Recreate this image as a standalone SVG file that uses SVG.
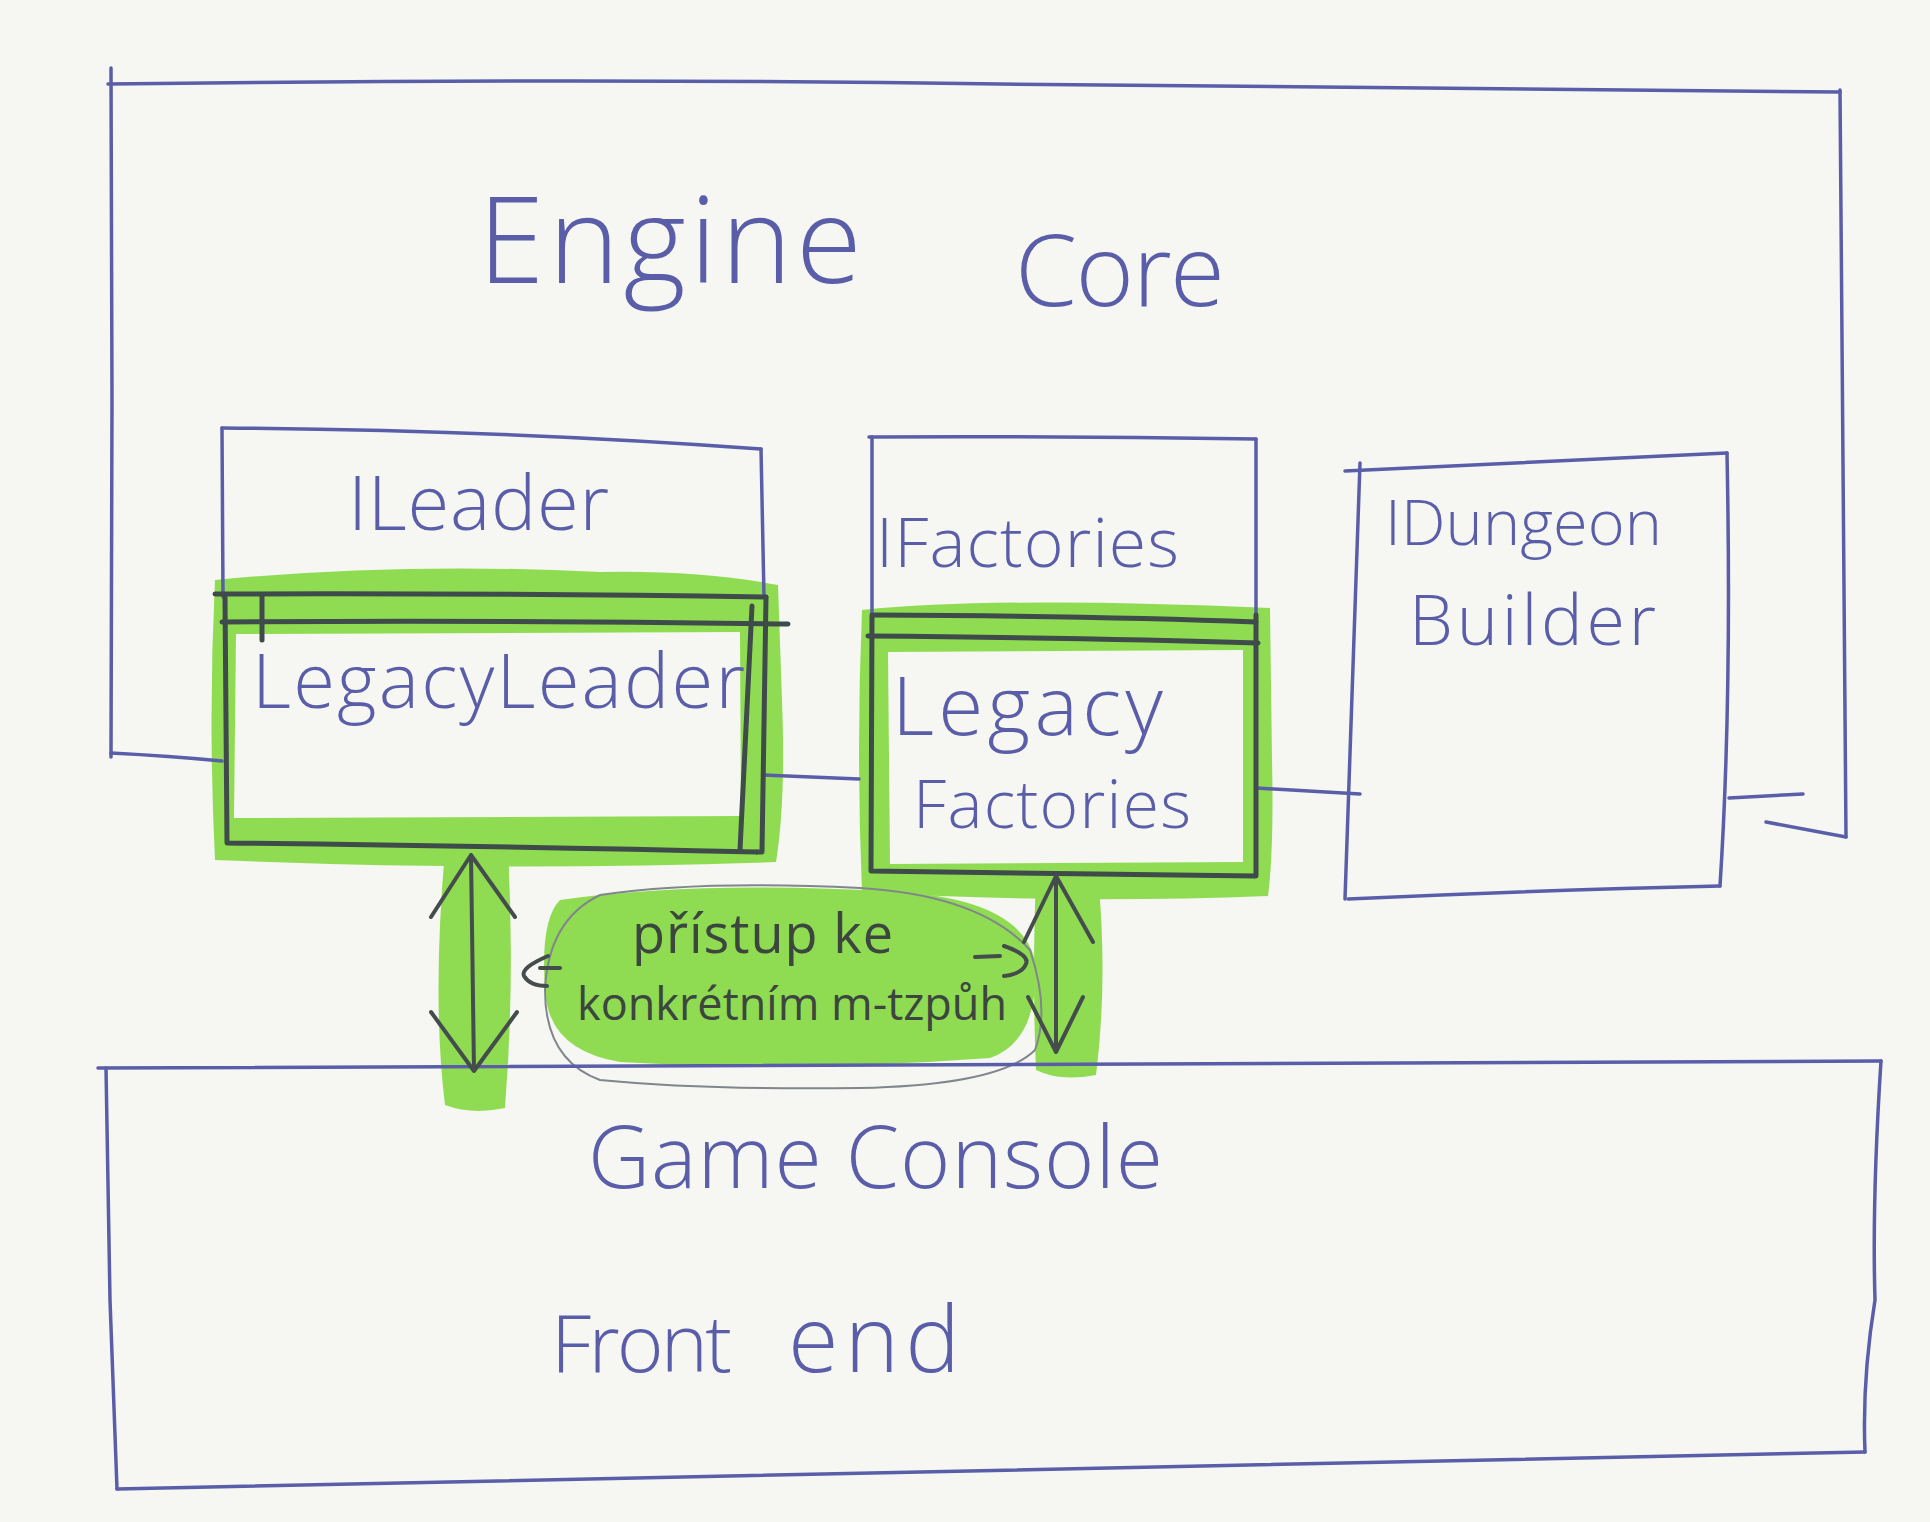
<svg xmlns="http://www.w3.org/2000/svg" width="1930" height="1522" viewBox="0 0 1930 1522">
<defs>
<style>
.ink{fill:none;stroke:#5a5ea8;stroke-width:3.5;stroke-linecap:round;stroke-linejoin:round}
.dark{fill:none;stroke:#3f4a4a;stroke-width:5;stroke-linecap:round;stroke-linejoin:round}
.arr{fill:none;stroke:#444c4c;stroke-width:4;stroke-linecap:round;stroke-linejoin:round}
.pencil{fill:none;stroke:#80868c;stroke-width:2;stroke-linecap:round}
.hl{fill:#8fdc52;fill-rule:evenodd}
.t{font-family:"Open Sans","Liberation Sans",sans-serif;font-weight:300;fill:#5a5ea8}
.tn{font-family:"Open Sans","Liberation Sans",sans-serif;font-weight:400;fill:#3c463f}
</style>
</defs>
<rect width="1930" height="1522" fill="#f6f6f3"/>

<g id="highlights">
<path class="hl" d="M215 580 Q400 562 600 572 Q700 570 778 585 L782 700 Q786 800 776 862 Q500 872 215 860 Q208 720 215 580 Z M236 634 L740 632 L741 816 L234 818 Z"/>
<path class="hl" d="M862 610 Q1000 596 1270 608 L1272 760 Q1274 850 1268 896 Q1060 904 862 892 Q856 750 862 610 Z M888 652 L1243 650 L1243 862 L890 864 Z"/>
<path class="hl" d="M445 850 L508 850 Q515 980 505 1108 Q472 1115 445 1105 Q432 1000 445 850 Z"/>
<path class="hl" d="M1036 874 L1098 876 Q1108 980 1096 1075 Q1060 1082 1036 1070 Q1032 980 1036 874 Z"/>
<path class="hl" d="M560 900 Q700 880 900 892 Q1020 900 1035 960 Q1040 1040 990 1058 Q800 1072 620 1062 Q548 1050 545 990 Q540 920 560 900 Z"/>
</g>

<g id="engine-core">
<path class="ink" d="M111 68 L112 400 L111 757"/>
<path class="ink" d="M108 84 Q600 78 1000 84 Q1500 88 1840 92"/>
<path class="ink" d="M1840 90 Q1843 450 1846 837"/>
<path class="ink" d="M111 753 Q170 756 222 761"/>
<path class="ink" d="M763 775 L859 779"/>
<path class="ink" d="M1256 788 L1360 794"/>
<path class="ink" d="M1729 798 L1803 794"/>
<path class="ink" d="M1766 822 L1846 837"/>
<text class="t" font-size="120"><tspan x="478" y="283" textLength="384" lengthAdjust="spacing">Engine</tspan><tspan font-size="100" x="1015" y="306" textLength="210" lengthAdjust="spacing">Core</tspan></text>
</g>

<g id="ileader">
<path class="ink" d="M222 428 Q500 430 761 449"/>
<path class="ink" d="M222 428 L223 597"/>
<path class="ink" d="M761 449 L764 597"/>
<text class="t" font-size="76" x="348" y="530" textLength="261" lengthAdjust="spacing">ILeader</text>
</g>

<g id="legacyleader">
<path class="dark" d="M215 594 Q500 593 766 597"/>
<path class="dark" d="M222 622 Q500 620 788 624"/>
<path class="dark" d="M225 597 L227 843 Q500 846 757 852"/>
<path class="dark" d="M766 597 L762 852 L757 852"/>
<path class="dark" d="M752 606 L740 850"/>
<path class="dark" d="M262 597 L262 640"/>
<text class="t" font-size="76" x="252" y="708" textLength="493" lengthAdjust="spacing">LegacyLeader</text>
</g>

<g id="ifactories">
<path class="ink" d="M869 437 Q1060 436 1256 439"/>
<path class="ink" d="M872 437 L872 615"/>
<path class="ink" d="M1256 439 L1256 615"/>
<text class="t" font-size="68" x="876" y="567" textLength="303" lengthAdjust="spacing">IFactories</text>
</g>

<g id="legacyfactories">
<path class="dark" d="M874 615 Q1100 616 1256 622"/>
<path class="dark" d="M868 636 Q1100 638 1258 643"/>
<path class="dark" d="M872 615 L871 871 Q1060 873 1256 876 L1256 615"/>
<text class="t" font-size="82" x="892" y="735" textLength="271" lengthAdjust="spacing">Legacy</text>
<text class="t" font-size="66" x="913" y="828" textLength="278" lengthAdjust="spacing">Factories</text>
</g>

<g id="idungeonbuilder">
<path class="ink" d="M1345 471 Q1540 462 1727 453"/>
<path class="ink" d="M1360 463 Q1352 700 1345 899"/>
<path class="ink" d="M1727 453 Q1732 700 1720 886"/>
<path class="ink" d="M1348 899 Q1540 890 1720 886"/>
<text class="t" font-size="63" x="1385" y="545" textLength="277" lengthAdjust="spacing">IDungeon</text>
<text class="t" font-size="70" x="1409" y="645" textLength="247" lengthAdjust="spacing">Builder</text>
</g>

<g id="note">
<path class="pencil" d="M600 895 Q700 880 860 888 Q980 895 1030 950 Q1050 1010 1035 1050 Q1000 1085 860 1088 Q700 1090 600 1080 Q545 1060 545 990 Q548 920 600 895 Z"/>
<path class="arr" d="M548 956 Q520 968 524 976 Q530 986 547 986 M540 968 L560 968"/>
<path class="arr" d="M975 957 L1000 956 M1004 946 Q1030 955 1026 964 Q1022 974 1004 976"/>
<text class="tn" font-size="54" x="632" y="953" textLength="261" lengthAdjust="spacing">přístup ke</text>
<text class="tn" font-size="45" x="577" y="1020" textLength="430" lengthAdjust="spacing">konkrétním m-tzpůh</text>
</g>

<g id="game-console">
<path class="ink" d="M98 1068 Q900 1062 1881 1061"/>
<path class="ink" d="M106 1068 L110 1300 L117 1489"/>
<path class="ink" d="M117 1489 Q900 1470 1865 1452"/>
<path class="ink" d="M1881 1061 Q1872 1200 1875 1300 Q1862 1380 1865 1452"/>
<text class="t" font-size="86" x="588" y="1188" textLength="575" lengthAdjust="spacing">Game Console</text>
<text class="t" font-size="80" y="1372"><tspan x="551" textLength="181" lengthAdjust="spacing">Front</tspan><tspan x="788" font-size="92" textLength="172" lengthAdjust="spacing">end</tspan></text>
</g>

<g id="connectors">
<path class="arr" d="M471 855 L474 1071 M431 917 L471 855 L515 917 M431 1012 L474 1071 L517 1012"/>
<path class="arr" d="M1056 876 L1056 1052 M1024 942 L1056 876 L1093 942 M1028 997 L1056 1052 L1083 997"/>
</g>
</svg>
